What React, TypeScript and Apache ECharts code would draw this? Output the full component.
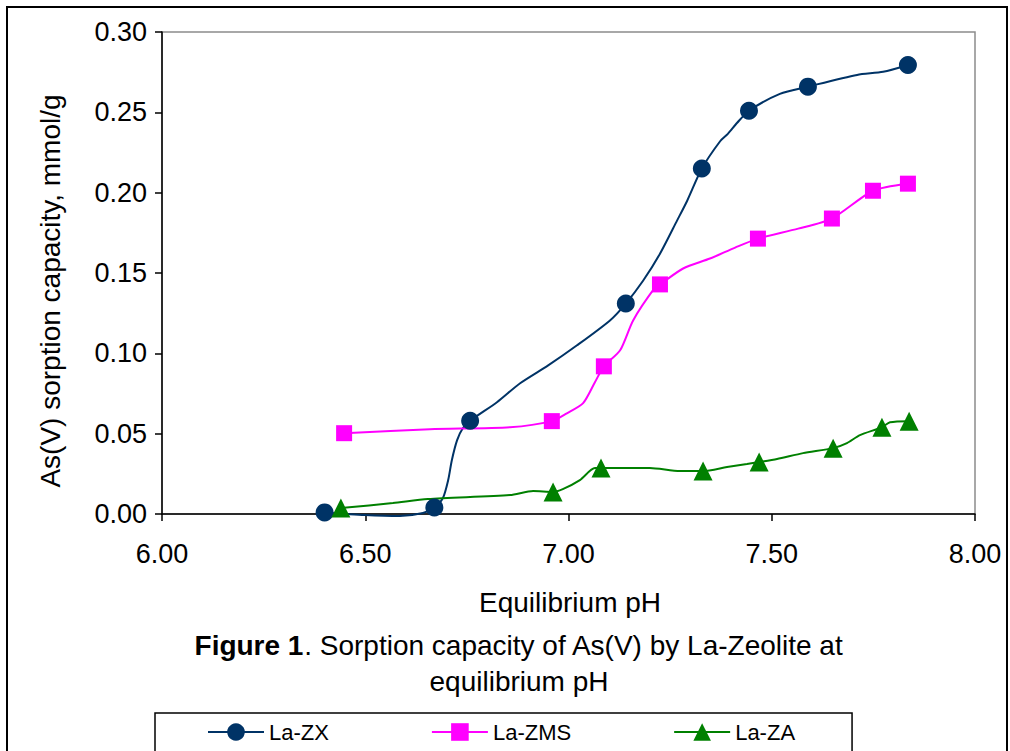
import React, { useEffect, useRef } from "react";
import * as echarts from "echarts";

// Marker points (pH, mmol/g)
const zxMarkers: [number, number][] = [
  [6.4, 0.001], [6.67, 0.004], [6.758, 0.058], [7.141, 0.131],
  [7.328, 0.215], [7.444, 0.251], [7.589, 0.266], [7.835, 0.2795],
];
// Unmarked points along the drawn La-ZX curve
const zxCurve: [number, number][] = [
  [6.499, -0.0006], [6.585, -0.0012], [6.642, 0.0006],
  [6.691, 0.0099], [6.704, 0.0211], [6.713, 0.0335], [6.726, 0.046], [6.74, 0.0534],
  [6.824, 0.0696], [6.881, 0.0814], [6.95, 0.0925], [7.021, 0.105], [7.102, 0.1205],
  [7.183, 0.145], [7.225, 0.162], [7.267, 0.1826], [7.292, 0.195],
  [7.373, 0.232], [7.392, 0.2366], [7.415, 0.2435],
  [7.52, 0.2615], [7.71, 0.2733], [7.774, 0.2752],
];

const zmsMarkers: [number, number][] = [
  [6.448, 0.0503], [6.959, 0.0578], [7.087, 0.0919], [7.225, 0.1429],
  [7.466, 0.1714], [7.648, 0.1839], [7.749, 0.2012], [7.835, 0.2056],
];
const zmsCurve: [number, number][] = [
  [6.659, 0.0528], [6.856, 0.054],
  [6.996, 0.0627], [7.036, 0.069], [7.065, 0.082],
  [7.127, 0.1019], [7.159, 0.1205], [7.213, 0.141],
  [7.282, 0.1528], [7.348, 0.159], [7.41, 0.1658],
  [7.565, 0.1776],
];

const zaMarkers: [number, number][] = [
  [6.44, 0.0037], [6.962, 0.0137], [7.08, 0.0286], [7.331, 0.0267],
  [7.469, 0.0323], [7.651, 0.041], [7.771, 0.054], [7.838, 0.0578],
];
const zaCurve: [number, number][] = [
  [6.568, 0.0068], [6.654, 0.0093], [6.856, 0.0118], [6.913, 0.0143],
  [6.986, 0.0155], [7.028, 0.0211], [7.065, 0.0286],
  [7.2, 0.0286], [7.274, 0.0267],
  [7.39, 0.0292], [7.439, 0.0311],
  [7.513, 0.0342], [7.577, 0.0379],
  [7.685, 0.0441], [7.717, 0.0491], [7.791, 0.0571],
];

const seriesNames = ["La-ZX", "La-ZMS", "La-ZA"];
const xTicks = { min: 6, max: 8, step: 0.5 };
const yTicks = { min: 0, max: 0.3, step: 0.05 };

const FONT = "'Liberation Sans', Arial, sans-serif";

function buildData(markers: [number, number][], curve: [number, number][]) {
  const all = [
    ...markers.map((p) => ({ p, m: true })),
    ...curve.map((p) => ({ p, m: false })),
  ].sort((a, b) => a.p[0] - b.p[0]);
  return all.map((d) => (d.m ? { value: d.p } : { value: d.p, symbol: "none" }));
}

export default function App() {
  const ref = useRef<HTMLDivElement>(null);
  useEffect(() => {
    document.body.style.margin = "0";
    const chart = echarts.init(ref.current!, null, { renderer: "svg" });
    const mk = (
      name: string,
      color: string,
      symbol: string,
      size: number,
      markers: [number, number][],
      curve: [number, number][]
    ) => ({
      name,
      type: "line",
      data: buildData(markers, curve),
      smooth: 0.25,
      clip: false,
      symbol,
      symbolSize: size,
      showSymbol: true,
      showAllSymbol: true,
      lineStyle: { color, width: 2 },
      itemStyle: { color },
      emphasis: { disabled: true },
    });
    chart.setOption({
      animation: false,
      backgroundColor: "#fff",
      grid: {
        left: 162,
        top: 32,
        right: 35,
        bottom: 237,
        show: true,
        borderColor: "#8c8c8c",
        borderWidth: 1.5,
        backgroundColor: "transparent",
      },
      xAxis: {
        type: "value",
        min: xTicks.min,
        max: xTicks.max,
        interval: xTicks.step,
        axisLine: { show: true, lineStyle: { color: "#000", width: 1.5 } },
        axisTick: { show: true, inside: false, length: 7, lineStyle: { color: "#000", width: 1.5 } },
        splitLine: { show: false },
        axisLabel: {
          formatter: (v: number) => v.toFixed(2),
          color: "#000",
          fontFamily: FONT,
          fontSize: 27,
          margin: 26,
        },
      },
      yAxis: {
        type: "value",
        min: yTicks.min,
        max: yTicks.max,
        interval: yTicks.step,
        axisLine: { show: true, lineStyle: { color: "#000", width: 1.5 } },
        axisTick: { show: true, inside: false, length: 7, lineStyle: { color: "#000", width: 1.5 } },
        splitLine: { show: false },
        axisLabel: {
          formatter: (v: number) => v.toFixed(2),
          color: "#000",
          fontFamily: FONT,
          fontSize: 27,
          margin: 15,
        },
      },
      legend: {
        data: seriesNames,
        left: 155,
        top: 713,
        orient: "horizontal",
        itemWidth: 56,
        itemHeight: 22,
        itemGap: 102,
        padding: [8, 57, 40, 52],
        borderColor: "#000",
        borderWidth: 1.5,
        textStyle: { color: "#000", fontFamily: FONT, fontSize: 22 },
        selectedMode: false,
      },
      graphic: [
        {
          type: "rect",
          shape: { x: 7, y: 7, width: 1000, height: 800 },
          style: { fill: "none", stroke: "#000", lineWidth: 2 },
          silent: true,
        },
        {
          type: "text",
          x: 50,
          y: 291,
          rotation: Math.PI / 2,
          style: {
            text: "As(V) sorption capacity, mmol/g",
            fontFamily: FONT,
            fontSize: 28,
            fill: "#000",
            align: "center",
            verticalAlign: "middle",
          },
        },
        {
          type: "text",
          x: 570,
          y: 602,
          style: {
            text: "Equilibrium pH",
            fontFamily: FONT,
            fontSize: 28,
            fill: "#000",
            align: "center",
            verticalAlign: "middle",
          },
        },
        {
          type: "text",
          x: 519,
          y: 663,
          style: {
            text: "{b|Figure 1}. Sorption capacity of As(V) by La-Zeolite at\nequilibrium pH",
            fontFamily: FONT,
            fontSize: 28,
            lineHeight: 36,
            fill: "#000",
            align: "center",
            verticalAlign: "middle",
            rich: {
              b: { fontWeight: "bold", fontFamily: FONT, fontSize: 28, lineHeight: 36, fill: "#000" },
            },
          },
        },
      ],
      series: [
        mk(seriesNames[0], "#003366", "circle", 18, zxMarkers, zxCurve),
        mk(seriesNames[1], "#FF00FF", "rect", 16, zmsMarkers, zmsCurve),
        mk(seriesNames[2], "#008000", "triangle", 19, zaMarkers, zaCurve),
      ],
    });
    return () => chart.dispose();
  }, []);
  return <div ref={ref} style={{ width: 1010, height: 751 }} />;
}
